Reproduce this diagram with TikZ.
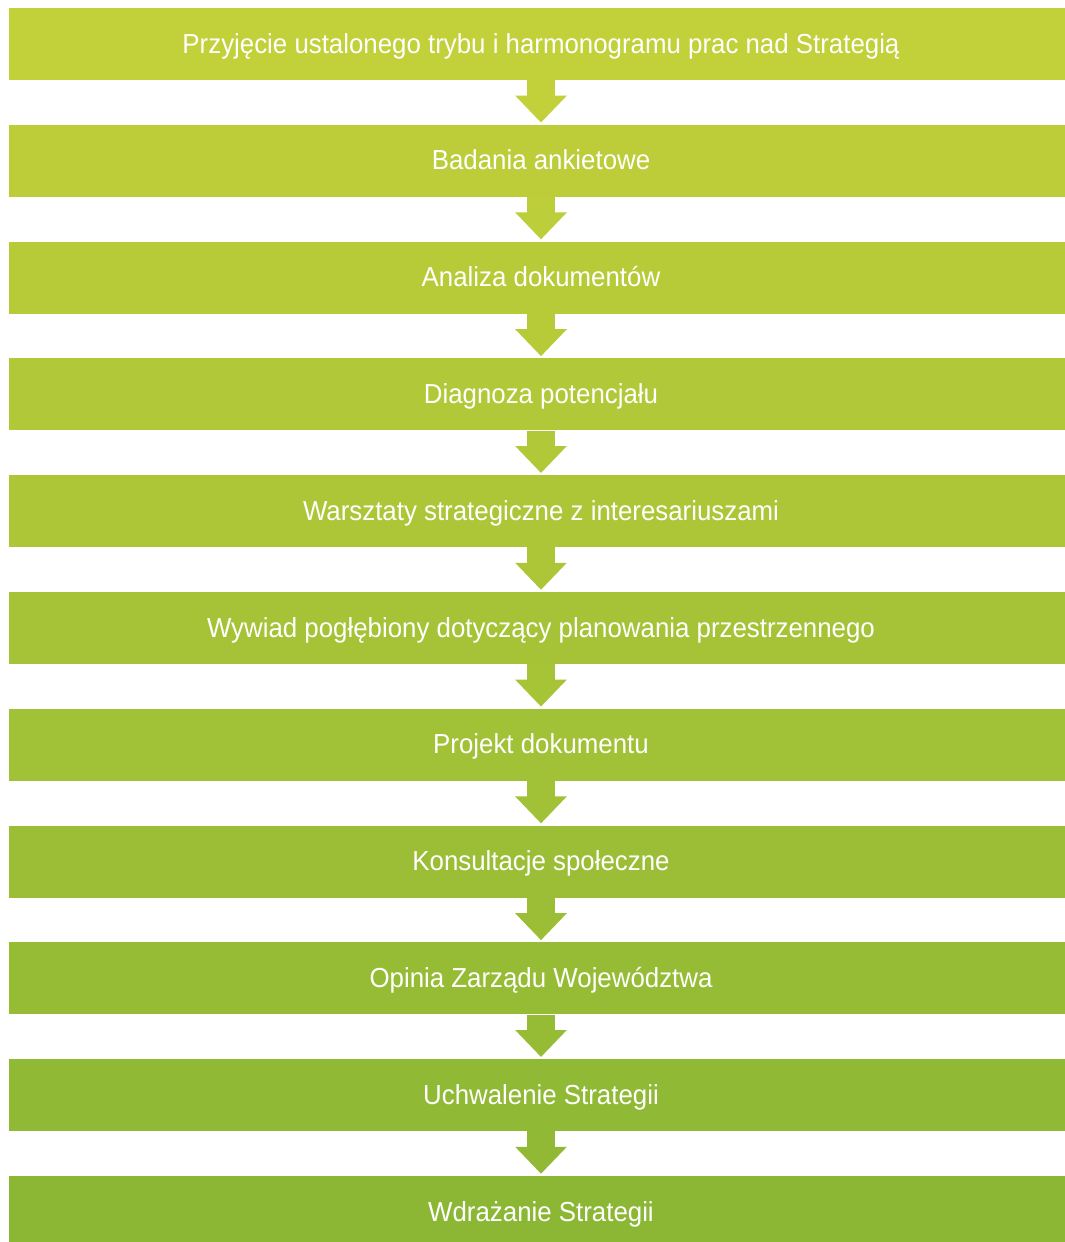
\documentclass[tikz,border=0pt]{standalone}
\usepackage{fontspec}
\setmainfont[FakeStretch=0.94]{Liberation Sans}
\usetikzlibrary{arrows.meta}

\definecolor{stepTop}{RGB}{194,208,58}
\definecolor{stepBottom}{RGB}{139,183,52}

\tikzset{
  stepbox/.style={rectangle, minimum width=1064pt, minimum height=72pt,
    inner sep=0pt, text height=21pt, text depth=3pt, text=white,
    font=\fontsize{27.5}{32}\selectfont},
  steparrow/.style={line width=28pt, shorten >=2pt,
    -{Triangle[width=50pt,length=27pt]}}
}

\begin{document}
\begin{tikzpicture}[x=1pt,y=-1pt]
\useasboundingbox (0,0) rectangle (1065,1242);
\clip (0,0) rectangle (1065,1242);

    % steps, colour fading from top to bottom
    \foreach \t [count=\i] in {Przyjęcie ustalonego trybu i harmonogramu prac nad Strategią,
        Badania ankietowe, Analiza dokumentów, Diagnoza potencjału,
        Warsztaty strategiczne z interesariuszami,
        Wywiad pogłębiony dotyczący planowania przestrzennego,
        Projekt dokumentu, Konsultacje społeczne, Opinia Zarządu Województwa,
        Uchwalenie Strategii, Wdrażanie Strategii}{
      \pgfmathtruncatemacro{\p}{100-(\i-1)*10}
      \node[stepbox, fill=stepTop!\p!stepBottom] (s\i) at (541,44+116.8*\i-116.8) {\t};
    }

    % arrows between steps
    \foreach \i in {1,...,10}{
      \pgfmathtruncatemacro{\j}{\i+1}
      \pgfmathtruncatemacro{\p}{100-(\i-1)*10}
      \draw[steparrow, stepTop!\p!stepBottom] (s\i.south) -- (s\j.north);
    }

\end{tikzpicture}
\end{document}
